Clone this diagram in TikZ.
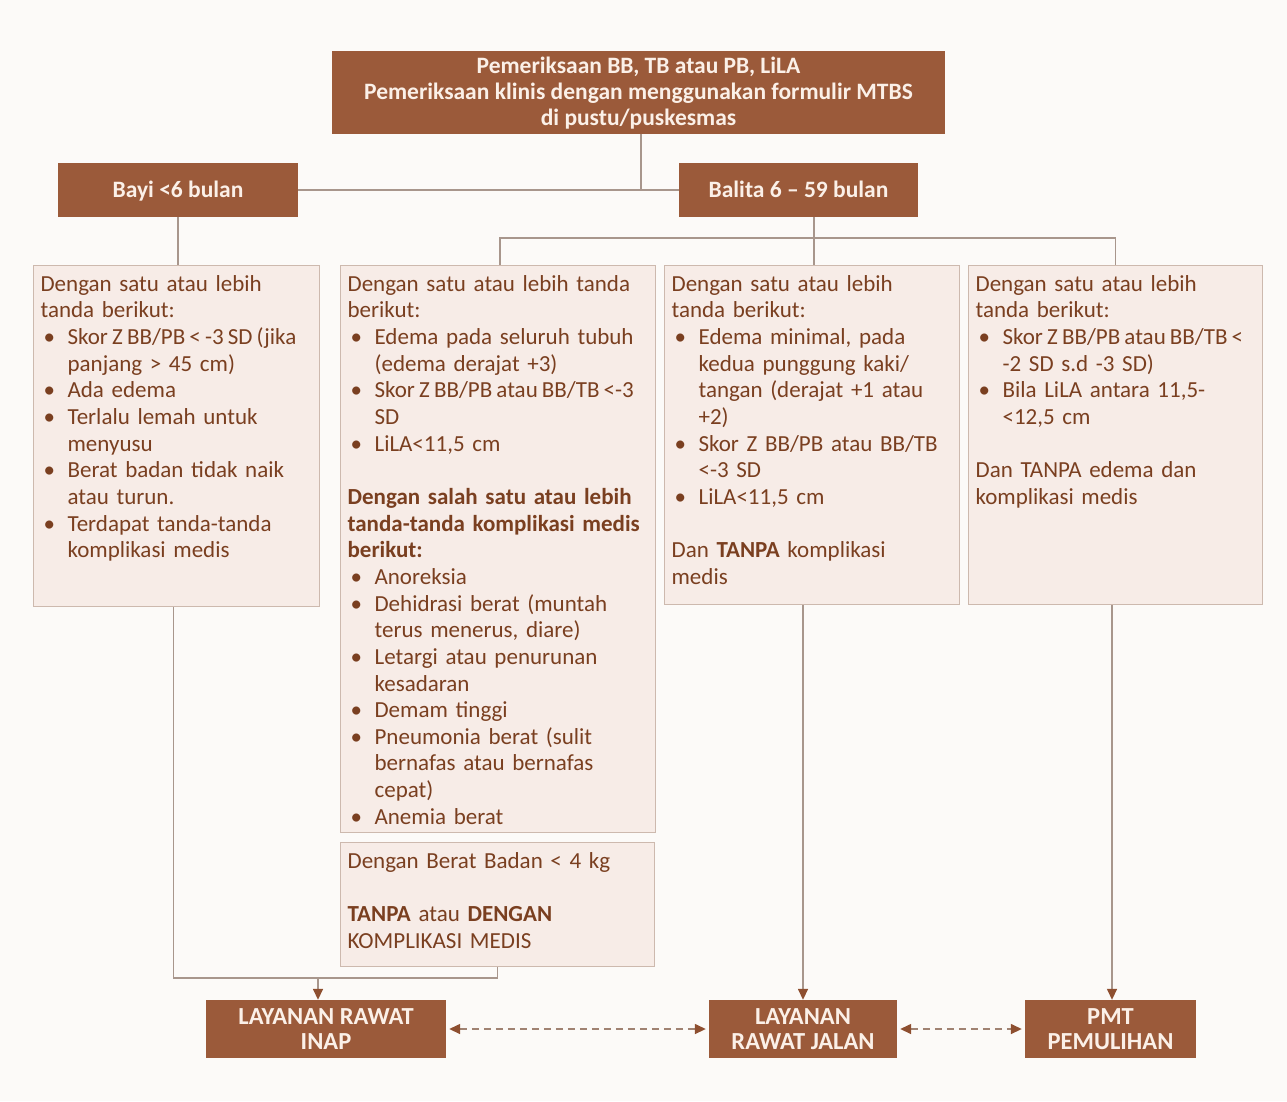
\documentclass[tikz,border=0pt]{standalone}
\usepackage{fontspec}
\setmainfont{Carlito}
\usetikzlibrary{arrows.meta}
\definecolor{bgc}{HTML}{FCFAF8}
\definecolor{brn}{HTML}{9B5A3A}
\definecolor{hdtxt}{HTML}{FBF0E8}
\definecolor{boxfill}{HTML}{F7ECE7}
\definecolor{boxline}{HTML}{CDB9AE}
\definecolor{txt}{HTML}{7A3F20}
\definecolor{conn}{HTML}{A8968C}
\definecolor{tipc}{HTML}{8E4F30}
\definecolor{dashc}{HTML}{A08272}
\newcommand\itm[1]{\par\hangindent=27pt\hangafter=1\noindent\makebox[27pt][l]{\hspace{3pt}•}#1}
\newcommand\blankline{\par\noindent\mbox{}}
\newcommand\tight[1]{{\spaceskip=0.18em plus 0.05em\relax #1}}
\newcommand\hd[1]{\vbox{\vskip5pt\hbox{\begin{tabular}{@{}c@{}}#1\end{tabular}}}}
\newcommand\bx[2]{\hbox to \hsize{\vbox to #1{\hsize=\dimexpr\hsize+30pt\relax\raggedright\hyphenpenalty=10000\noindent\strut #2\par\vfill}\hss}}
\tikzset{
  hdr/.style={fill=brn, text=hdtxt, font=\bfseries\fontsize{23.5}{26}\selectfont, align=center, inner sep=0pt},
  ftr/.style={fill=brn, text=hdtxt, font=\bfseries\fontsize{24.5}{25}\selectfont, align=center, inner sep=0pt},
  cbox/.style={fill=boxfill, draw=boxline, line width=1.2pt, anchor=north west, inner xsep=7pt, inner ysep=7pt,
     text=txt, font=\fontsize{23}{26.65}\selectfont},
  connl/.style={draw=conn, line width=1.5pt},
  arr/.style={connl, -{Triangle[length=11pt,width=10pt,color=tipc]}},
  darr/.style={draw=dashc, line width=1.5pt, dash pattern=on 7pt off 5pt,
     {Triangle[length=11pt,width=10pt,color=tipc]}-{Triangle[length=11pt,width=10pt,color=tipc]}, shorten <=3pt, shorten >=3pt}
}
\begin{document}
\begin{tikzpicture}[x=1pt,y=-1pt]
\fill[bgc] (0,0) rectangle (1287,1101);
\useasboundingbox (0,0) rectangle (1287,1101);

\node[hdr, minimum width=613pt, minimum height=82pt] (top) at (638.5,92)
  {\hd{Pemeriksaan BB, TB atau PB, LiLA\\Pemeriksaan klinis dengan menggunakan formulir MTBS\\di pustu/puskesmas}};
\node[hdr, minimum width=240pt, minimum height=54pt] (bayi) at (178,190) {\hd{Bayi <6 bulan}};
\node[hdr, minimum width=239pt, minimum height=54pt] (balita) at (798.5,190) {\hd{Balita 6 – 59 bulan}};

\node[cbox, text width=272pt] (b1) at (33,265) {\bx{327pt}{%
Dengan satu atau lebih\newline tanda berikut:
\itm{\tight{Skor Z BB/PB < -3 SD (jika}\newline panjang > 45 cm)}
\itm{Ada edema}
\itm{Terlalu lemah untuk\newline menyusu}
\itm{Berat badan tidak naik\newline atau turun.}
\itm{Terdapat tanda-tanda\newline komplikasi medis}}};

\node[cbox, text width=301pt] (b2) at (340,265) {\bx{553pt}{%
Dengan satu atau lebih tanda\newline berikut:
\itm{Edema pada seluruh tubuh\newline (edema derajat +3)}
\itm{\tight{Skor Z BB/PB atau BB/TB <-3}\newline SD}
\itm{LiLA<11,5 cm}
\blankline
\par\noindent\textbf{Dengan salah satu atau lebih\newline tanda-tanda komplikasi medis\newline berikut:}
\itm{Anoreksia}
\itm{Dehidrasi berat (muntah\newline terus menerus, diare)}
\itm{Letargi atau penurunan\newline kesadaran}
\itm{Demam tinggi}
\itm{Pneumonia berat (sulit\newline bernafas atau bernafas\newline cepat)}
\itm{Anemia berat}}};

\node[cbox, text width=300pt] (b2b) at (340,842) {\bx{110pt}{%
Dengan Berat Badan < 4 kg
\blankline
\par\noindent\textbf{TANPA} atau \textbf{DENGAN}\newline KOMPLIKASI MEDIS}};

\node[cbox, text width=281pt] (b3) at (664,265) {\bx{325pt}{%
Dengan satu atau lebih\newline tanda berikut:
\itm{Edema minimal, pada\newline kedua punggung kaki/\newline tangan (derajat +1 atau\newline +2)}
\itm{Skor Z BB/PB atau BB/TB\newline <-3 SD}
\itm{LiLA<11,5 cm}
\blankline
\par\noindent Dan \textbf{TANPA} komplikasi\newline medis}};

\node[cbox, text width=280pt] (b4) at (968,265) {\bx{325pt}{%
Dengan satu atau lebih\newline tanda berikut:
\itm{\tight{Skor Z BB/PB atau BB/TB <}\newline -2 SD s.d -3 SD)}
\itm{Bila LiLA antara 11,5-\newline <12,5 cm}
\blankline
\par\noindent Dan TANPA edema dan\newline komplikasi medis}};

\node[ftr, minimum width=240pt, minimum height=58pt] (inap) at (326,1029) {\hd{LAYANAN RAWAT\\INAP}};
\node[ftr, minimum width=188pt, minimum height=58pt] (jalan) at (803,1029) {\hd{LAYANAN\\RAWAT JALAN}};
\node[ftr, minimum width=171pt, minimum height=58pt] (pmt) at (1110.5,1029) {\hd{PMT\\PEMULIHAN}};

\coordinate (mj) at (318,978);

% connectors
\draw[connl] ([xshift=2.5pt]top.south) -- ([xshift=2.5pt]top.south |- bayi.east);
\draw[connl] (bayi.east) -- (balita.west);
\draw[connl] (bayi.south) -- (bayi.south |- b1.north);
\draw[connl] ([xshift=2pt]balita.south -| b3.north) -- ([xshift=2pt]b3.north);
\draw[connl] ([xshift=2pt]b2.north) -- ++(0,-27) -| (b4.north);
\draw[connl] ([xshift=-3pt]b1.south) -- ([xshift=-3pt]b1.south |- mj) -- (b2b.south |- mj) -- (b2b.south);
\draw[arr] (mj) -- (mj |- inap.north);
\draw[arr] (jalan.north |- b3.south) -- (jalan.north);
\draw[arr] ([xshift=1.5pt]pmt.north |- b4.south) -- ([xshift=1.5pt]pmt.north);
\draw[darr] (inap.east) -- (jalan.west);
\draw[darr] (jalan.east) -- (pmt.west);
\end{tikzpicture}
\end{document}
